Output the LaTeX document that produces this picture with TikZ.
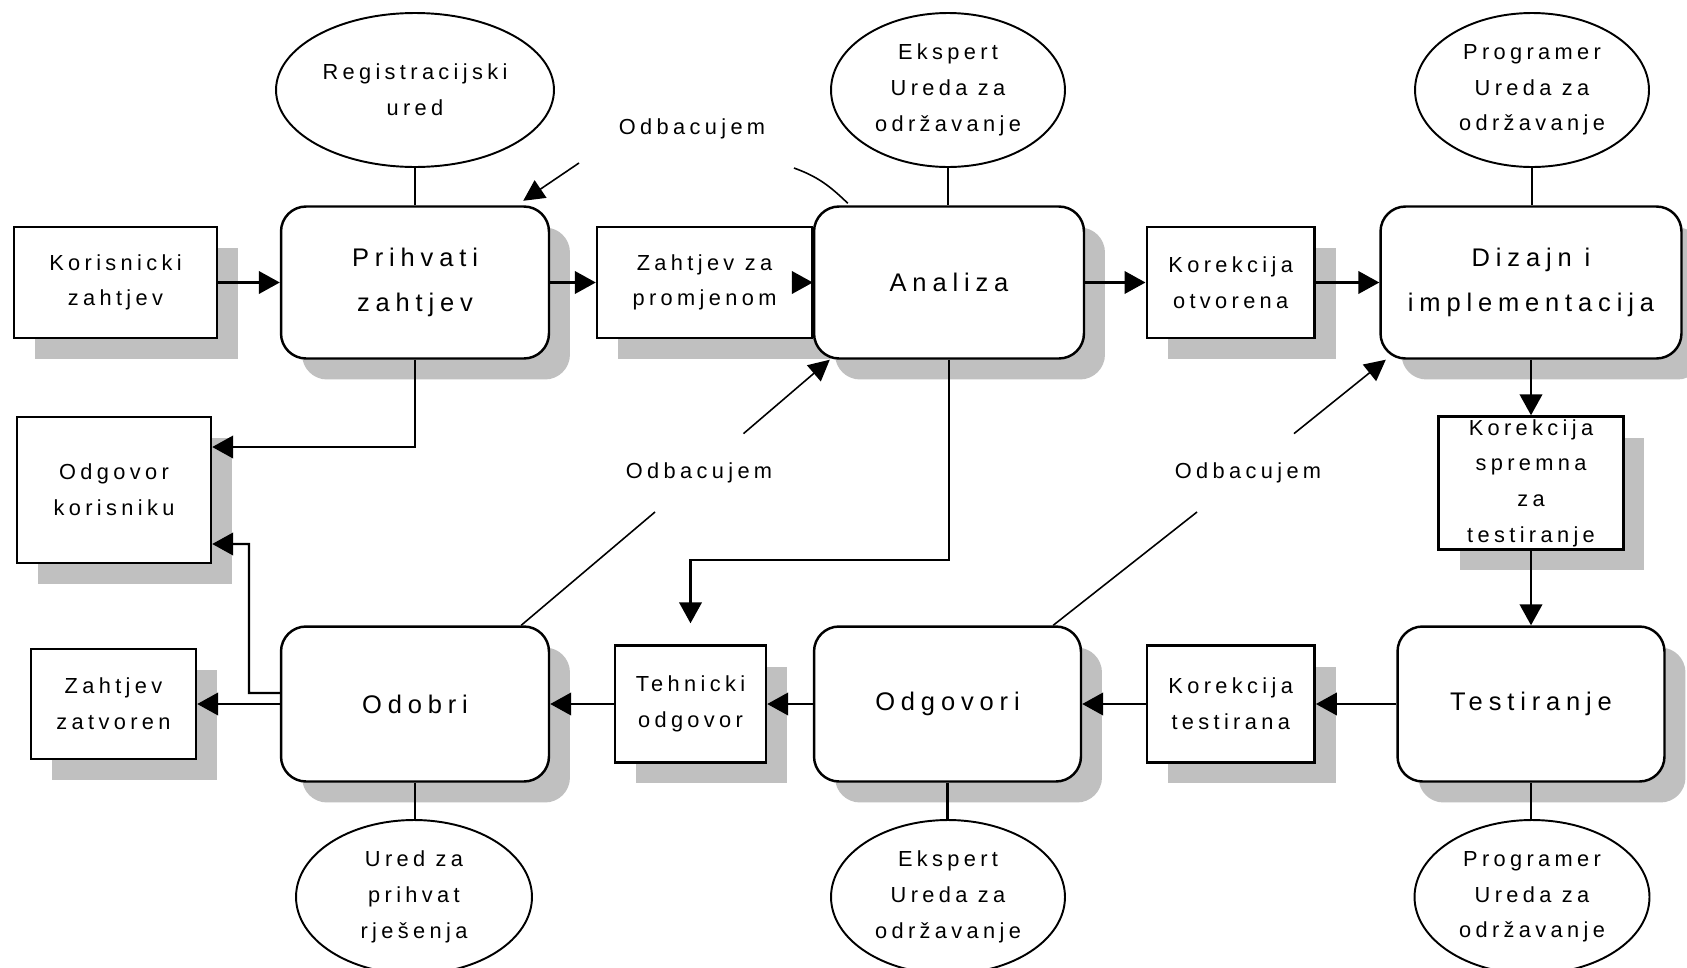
\documentclass[tikz,border=0pt]{standalone}
\usepackage{fontspec}
\setmainfont{Liberation Sans}[LetterSpace=20]
\newfontfamily\bigfont{Liberation Sans}[LetterSpace=23]
\usetikzlibrary{shapes.geometric,shadows,arrows.meta}
\definecolor{shade}{RGB}{192,192,192}

\begin{document}
\begin{tikzpicture}[x=0.02cm,y=-0.02cm,
  every node/.style={inner sep=0pt, align=center},
  smalltext/.style={font=\fontsize{12.4}{20.3}\selectfont},
  bigtext/.style={font=\bigfont\fontsize{14.5}{25.6}\selectfont},
  shadowed/.style={drop shadow={shadow xshift=0.42cm, shadow yshift=-0.42cm, fill=shade, opacity=1}},
  doc/.style={draw, line width=1.4pt, fill=white, shadowed, smalltext},
  proc/.style={draw, line width=1.4pt, fill=white, rounded corners=0.5cm, shadowed, bigtext},
  actor/.style={draw, ellipse, line width=1.1pt, fill=white, smalltext},
  flow/.style={line width=1.4pt, -{Triangle[length=0.42cm,width=0.45cm]}},
  link/.style={line width=1.4pt},
  reject/.style={line width=0.9pt},
  rejecttip/.style={reject, -{Triangle[length=0.42cm,width=0.42cm]}},
]
\useasboundingbox[fill=white] (0,0) rectangle (1687,967);

% upper row
\node[doc, minimum width=4.06cm, minimum height=2.22cm] (kor) at (115.5,282.5) {Korisnicki\\zahtjev};
\node[proc, minimum width=5.36cm, minimum height=3.04cm] (pri) at (415,282.5) {Prihvati\\zahtjev};
\node[doc, minimum width=4.30cm, minimum height=2.22cm] (zah) at (704.5,282.5) {Zahtjev za\\promjenom};
\node[proc, minimum width=5.40cm, minimum height=3.04cm] (ana) at (949,282.5) {Analiza};
\node[doc, minimum width=3.36cm, minimum height=2.22cm] (kotv) at (1230.7,282.5) {Korekcija\\otvorena};
\node[proc, minimum width=6.02cm, minimum height=3.04cm] (diz) at (1531,282.5) {Dizajn i\\implementacija};

% roles above the upper row
\node[actor, minimum width=5.56cm, minimum height=3.08cm] (reg) at (415,90) {Registracijski\\ured};
\node[actor, minimum width=4.68cm, minimum height=3.08cm] (eks1) at (948,90) {Ekspert\\Ureda za\\održavanje};
\node[actor, minimum width=4.68cm, minimum height=3.08cm] (prog1) at (1532,90) {Programer\\Ureda za\\održavanje};

% right column
\node[doc, minimum width=3.70cm, minimum height=2.66cm] (kspr) at (1531,483) {Korekcija\\spremna\\za\\testiranje};

% lower row
\node[proc, minimum width=5.34cm, minimum height=3.10cm] (test) at (1531,704) {Testiranje};
\node[doc, minimum width=3.36cm, minimum height=2.34cm] (kt) at (1230.7,704) {Korekcija\\testirana};
\node[proc, minimum width=5.34cm, minimum height=3.10cm] (odg) at (947.5,704) {Odgovori};
\node[doc, minimum width=3.02cm, minimum height=2.34cm] (teh) at (690.5,704) {Tehnicki\\odgovor};
\node[proc, minimum width=5.36cm, minimum height=3.10cm] (odo) at (415,704) {Odobri};
\node[doc, minimum width=3.30cm, minimum height=2.20cm] (zz) at (113.5,704) {Zahtjev\\zatvoren};
\node[doc, minimum width=3.88cm, minimum height=2.92cm] (ok) at (114,490) {Odgovor\\korisniku};

% roles below the lower row
\node[actor, minimum width=4.72cm, minimum height=3.08cm] (ured) at (414,897) {Ured za\\prihvat\\rješenja};
\node[actor, minimum width=4.68cm, minimum height=3.08cm] (eks2) at (948,897) {Ekspert\\Ureda za\\održavanje};
\node[actor, minimum width=4.70cm, minimum height=3.08cm] (prog2) at (1532,897) {Programer\\Ureda za\\održavanje};

% rejection labels
\node[smalltext] (oA) at (692,129) {Odbacujem};
\node[smalltext] (oB) at (699,473) {Odbacujem};
\node[smalltext] (oC) at (1248,473) {Odbacujem};

% main flow
\draw[flow] (kor.east) -- (pri.west);
\draw[flow] (pri.east) -- (zah.west);
\draw[flow] ([xshift=-0.42cm]ana.west) -- (ana.west);
\draw[flow] (ana.east) -- (kotv.west);
\draw[flow] (kotv.east) -- (diz.west);
\draw[flow] (diz.south) -- (kspr.north);
\draw[flow] (kspr.south) -- (test.north);
\draw[flow] (test.west) -- (kt.east);
\draw[flow] (kt.west) -- (odg.east);
\draw[flow] (odg.west) -- (teh.east);
\draw[flow] (teh.west) -- (odo.east);
\draw[flow] (odo.west) -- (zz.east);

\draw[flow] (pri.south) |- ([yshift=0.86cm]ok.east);
\coordinate (okturn) at (249,544);
\draw[flow] ([yshift=0.22cm]odo.west) -| (okturn) -- ([yshift=-1.08cm]ok.east);
\coordinate (anabend) at (690.5,560);
\draw[flow, shorten >=0.42cm] (ana.south) |- (anabend) -- (teh.north);

% roles attached to their steps
\draw[link] (reg.south) -- (reg.south |- pri.north);
\draw[link] (eks1.south) -- (eks1.south |- ana.north);
\draw[link] (prog1.south) -- (prog1.south |- diz.north);
\draw[link] (odo.south) -- (odo.south |- ured.north);
\draw[link] (odg.south) -- (odg.south |- eks2.north);
\draw[link] (test.south) -- (test.south |- prog2.north);

% rejections
\coordinate (rA1) at (794,168);
\coordinate (rA2) at (579,163);
\draw[reject] ([xshift=0.7cm,yshift=0.04cm]ana.north west) to[out=136,in=-20] (rA1);
\draw[rejecttip] (rA2) -- ([xshift=-0.54cm,yshift=0.09cm]pri.north east);

\coordinate (rB1) at (655,512);
\coordinate (rB2) at (743.5,433.6);
\draw[reject] ([xshift=-0.58cm]odo.north east) -- (rB1);
\draw[rejecttip] (rB2) -- ([xshift=0.34cm]ana.south west);

\coordinate (rC1) at (1197,512);
\coordinate (rC2) at (1294,433.6);
\draw[reject] ([xshift=-0.58cm]odg.north east) -- (rC1);
\draw[rejecttip] (rC2) -- ([xshift=0.13cm]diz.south west);
\end{tikzpicture}
\end{document}
